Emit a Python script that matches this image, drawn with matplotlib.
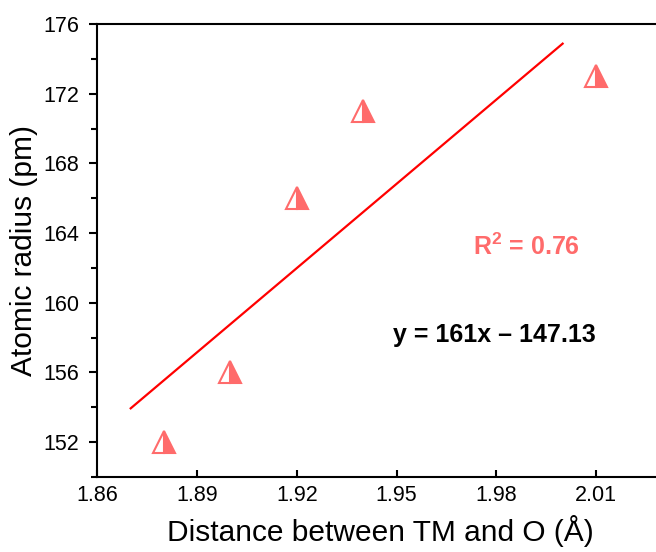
import numpy as np
import matplotlib
matplotlib.use('Agg')
import matplotlib.pyplot as plt
from matplotlib.ticker import MultipleLocator

# Metal-oxygen distance vs atomic radius
distance = [1.88, 1.90, 1.92, 1.94, 2.01]
radius = [152, 156, 166, 171, 173]

# Fitted line parameters and extent
slope = 161
intercept = -147.13
r_squared = 0.76
fit_range = [1.87, 2.00]

xticks = [1.86, 1.89, 1.92, 1.95, 1.98, 2.01]
yticks = [152, 156, 160, 164, 168, 172, 176]

plt.rcParams['font.family'] = ['Liberation Sans', 'DejaVu Sans']
plt.rcParams['mathtext.fontset'] = 'custom'
plt.rcParams['mathtext.rm'] = 'Liberation Sans'
plt.rcParams['mathtext.bf'] = 'Liberation Sans:bold'

marker_color = '#FF6B6B'

fig = plt.figure(figsize=(6.56, 5.52), dpi=100)
ax = fig.add_axes([0.1486, 0.1359, 0.861, 0.8207])

# Fit line
fit_x = np.array(fit_range)
ax.plot(fit_x, slope * fit_x + intercept, color='#FF0000', lw=1.6, zorder=2)

# Half-filled triangles
ax.plot(distance, radius, linestyle='none', marker='^', markersize=16,
        fillstyle='right', markerfacecolor=marker_color,
        markerfacecoloralt='white', markeredgecolor=marker_color,
        markeredgewidth=1.5, zorder=3)

ax.set_xlim(1.86, 2.03)
ax.set_ylim(150, 176)
ax.set_xticks(xticks)
ax.set_xticklabels([f'{v:.2f}' for v in xticks])
ax.set_yticks(yticks)
ax.yaxis.set_minor_locator(MultipleLocator(2))

for side in ['left', 'bottom', 'top', 'right']:
    ax.spines[side].set_linewidth(1.5)

ax.tick_params(axis='x', direction='in', length=5, width=1.5, labelsize=15.5, pad=6)
ax.tick_params(axis='y', which='major', direction='out', length=6, width=1.5, labelsize=15.5, pad=7)
ax.tick_params(axis='y', which='minor', direction='out', length=4, width=1.5)

ax.set_xlabel('Distance between TM and O (Å)', fontsize=21.5, labelpad=6)
ax.set_ylabel('Atomic radius (pm)', fontsize=21.5, labelpad=4)

ax.text(1.973, 162.75, f'$\\mathbf{{R^2}}$ = {r_squared:.2f}', color=marker_color,
        fontsize=18, fontweight='bold', ha='left', va='baseline')
ax.text(1.949, 157.75, f'y = {slope}x – {-intercept:.2f}', color='black',
        fontsize=18, fontweight='bold', ha='left', va='baseline')

fig.savefig('out.png', dpi=100)
